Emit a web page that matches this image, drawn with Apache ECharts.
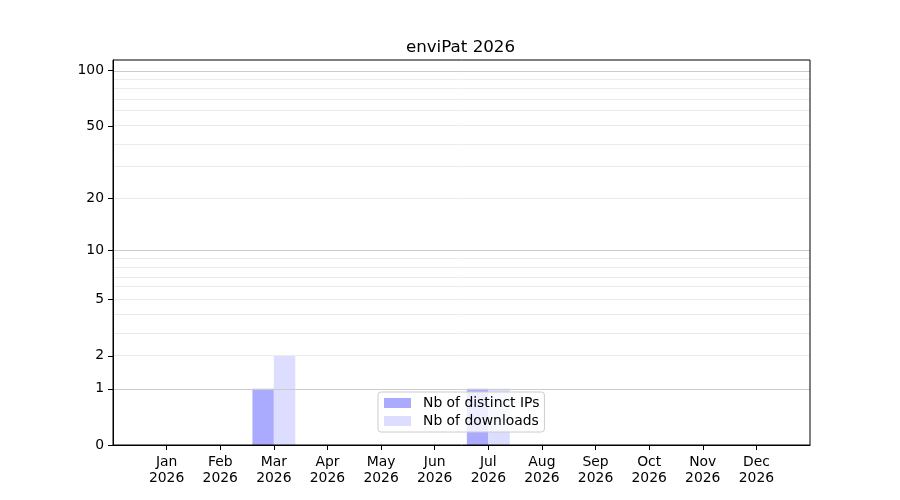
<!DOCTYPE html>
<html>
<head>
<meta charset="utf-8">
<script src="https://cdn.jsdelivr.net/npm/echarts@6/dist/echarts.min.js"></script>
<style>html,body{margin:0;padding:0;background:#fff}#c{width:900px;height:500px}</style>
</head>
<body>
<div id="c"></div>
<script>
const months = ['Jan', 'Feb', 'Mar', 'Apr', 'May', 'Jun', 'Jul', 'Aug', 'Sep', 'Oct', 'Nov', 'Dec'];
const year = '2026';
const distinctIPs = [0, 0, 1, 0, 0, 0, 1, 0, 0, 0, 0, 0];
const downloads = [0, 0, 2, 0, 0, 0, 1, 0, 0, 0, 0, 0];
const yTickLabels = [0, 1, 2, 5, 10, 20, 50, 100];
const majorGrid = [1, 10, 100];
const minorGrid = [2, 3, 4, 5, 6, 7, 8, 9, 20, 30, 40, 50, 60, 70, 80, 90];
const yMaxValue = 114;

const tf = v => Math.log10(1 + v);
const inv = t => Math.round(Math.pow(10, t) - 1);
const cats = [''].concat(months.map(m => m + '\n' + year)).concat(['']);
const pad = arr => [null].concat(arr.map(tf)).concat([null]);
const FONT = 'DejaVu Sans';
const FS = 13.9;

const gridLines = minorGrid.map(v => ({yAxis: tf(v), lineStyle: {color: '#ebebeb', width: 1, type: 'solid'}}))
  .concat(majorGrid.map(v => ({yAxis: tf(v), lineStyle: {color: '#cbcbcb', width: 1, type: 'solid'}})));

const chart = echarts.init(document.getElementById('c'), null, {renderer: 'canvas'});
chart.setOption({
  animation: false,
  backgroundColor: '#ffffff',
  title: {
    text: 'enviPat ' + year,
    left: 455.5, top: 34, textAlign: 'center',
    textStyle: {fontFamily: FONT, fontSize: 16.7, fontWeight: 'normal', color: '#000'}
  },
  grid: {left: 113, right: 90, top: 60, bottom: 55, show: true, z: 10, borderColor: '#000', borderWidth: 1, backgroundColor: 'transparent'},
  legend: {
    data: ['Nb of distinct IPs', 'Nb of downloads'],
    orient: 'vertical', left: 378, top: 392,
    itemWidth: 27, itemHeight: 10, itemGap: 4,
    padding: [4, 5, 4, 6],
    backgroundColor: 'rgba(255,255,255,0.8)', borderColor: '#cccccc', borderWidth: 1, borderRadius: 3,
    textStyle: {fontFamily: FONT, fontSize: FS, color: '#000', padding: [0, 0, 0, 7]},
    icon: 'rect'
  },
  xAxis: {
    type: 'category', data: cats, boundaryGap: false, z: 10,
    axisLine: {lineStyle: {color: '#000', width: 1}},
    axisTick: {length: 5, lineStyle: {color: '#000'}, interval: (i) => i > 0 && i < cats.length - 1},
    axisLabel: {interval: 0, color: '#000', fontFamily: FONT, fontSize: FS, lineHeight: 16, margin: 9},
    splitLine: {show: false}
  },
  yAxis: {
    type: 'value', min: 0, max: tf(yMaxValue), z: 10,
    axisLine: {show: true, lineStyle: {color: '#000', width: 1}},
    axisTick: {show: true, length: 5, lineStyle: {color: '#000'}, customValues: yTickLabels.map(tf)},
    axisLabel: {color: '#000', fontFamily: FONT, fontSize: FS, margin: 9, customValues: yTickLabels.map(tf), formatter: v => String(inv(v))},
    splitLine: {show: false}
  },
  series: [
    {name: 'Nb of distinct IPs', type: 'bar', data: pad(distinctIPs), barWidth: '40%', barGap: '0%', itemStyle: {color: '#aaaaff'}, z: 2,
     markLine: {silent: true, symbol: 'none', label: {show: false}, z: 5, data: gridLines}},
    {name: 'Nb of downloads', type: 'bar', data: pad(downloads), barWidth: '40%', barGap: '0%', itemStyle: {color: '#ddddff'}, z: 2}
  ]
});
</script>
</body>
</html>
